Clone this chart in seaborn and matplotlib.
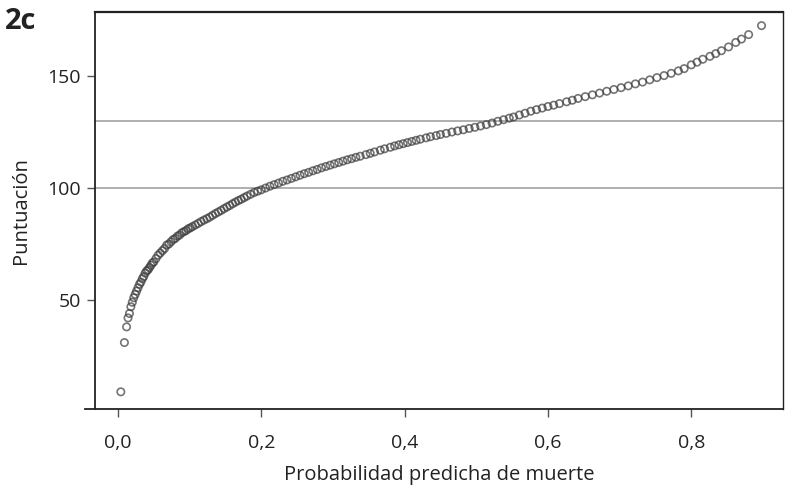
import matplotlib
matplotlib.use("Agg")
import matplotlib.pyplot as plt
import seaborn as sns
import pandas as pd

# predicted probability of death vs score
prob = [0.004, 0.009, 0.012, 0.014, 0.016, 0.018, 0.020, 0.022, 0.024, 0.026,
        0.028, 0.030, 0.032, 0.034, 0.036, 0.038, 0.040, 0.042, 0.044, 0.046,
        0.048, 0.050, 0.053, 0.056, 0.059, 0.062, 0.065, 0.068, 0.071, 0.074,
        0.077, 0.080, 0.083, 0.086, 0.089, 0.092, 0.095, 0.098, 0.101, 0.104,
        0.108, 0.112, 0.116, 0.120, 0.124, 0.128, 0.132, 0.136, 0.140, 0.144,
        0.148, 0.152, 0.156, 0.160, 0.164, 0.168, 0.172, 0.176, 0.180, 0.185,
        0.190, 0.195, 0.200,
        0.206, 0.212, 0.218, 0.224, 0.230, 0.236, 0.242, 0.248, 0.254, 0.260,
        0.266, 0.272, 0.278, 0.284, 0.290, 0.296, 0.302, 0.308, 0.314, 0.320,
        0.326, 0.332, 0.338, 0.346, 0.352, 0.358, 0.366, 0.372, 0.380, 0.386,
        0.392, 0.398, 0.404, 0.410, 0.416, 0.422, 0.430, 0.436, 0.444, 0.450,
        0.458, 0.466, 0.474, 0.482, 0.490, 0.498,
        0.506, 0.514, 0.522, 0.530, 0.538, 0.546, 0.552, 0.560, 0.568, 0.576,
        0.584, 0.592, 0.600, 0.608, 0.616, 0.626, 0.634, 0.642, 0.652, 0.662,
        0.672, 0.682, 0.692, 0.702, 0.712, 0.722, 0.732, 0.742, 0.752, 0.762,
        0.772, 0.782, 0.790, 0.800, 0.808, 0.816, 0.826, 0.834, 0.842, 0.852,
        0.862, 0.870, 0.880, 0.898]
score = [9, 31, 38, 42, 44, 47, 49, 51, 52.5, 54,
         55.5, 57, 58, 59.5, 60.5, 62, 63, 63.5, 64.5, 65.5,
         66.5, 67, 68.5, 70, 71, 72, 73, 74.5, 75, 76,
         77, 77.5, 78.5, 79, 80, 80.5, 81, 81.8, 82.2, 82.8,
         83.5, 84.2, 85, 85.7, 86.3, 87, 87.8, 88.6, 89.3, 90,
         90.8, 91.5, 92.2, 93, 93.7, 94.4, 95, 95.7, 96.4, 97.2,
         98, 98.6, 99.2,
         100, 100.8, 101.5, 102.2, 103, 103.6, 104.3, 105, 105.7, 106.4,
         107, 107.7, 108.3, 109, 109.6, 110.2, 110.8, 111.4, 112, 112.6,
         113.1, 113.7, 114.2, 114.9, 115.5, 116.1, 116.9, 117.5, 118.2, 118.8,
         119.3, 119.8, 120.3, 120.8, 121.3, 121.8, 122.4, 122.9, 123.4, 123.9,
         124.4, 125, 125.5, 126, 126.6, 127.1,
         127.7, 128.3, 129, 129.8, 130.5, 131.2, 131.7, 132.6, 133.4, 134.3,
         135, 135.7, 136.4, 137, 137.7, 138.5, 139.2, 140, 140.8, 141.6,
         142.4, 143.2, 144, 144.8, 145.6, 146.5, 147.3, 148.3, 149.3, 150.2,
         151.2, 152.3, 153.3, 155, 156.2, 157.5, 158.8, 160, 161.3, 163,
         165, 166.5, 168.5, 172.5]

ref_lines = [100, 130]
xticks = [0.0, 0.2, 0.4, 0.6, 0.8]
xticklabels = ["0,0", "0,2", "0,4", "0,6", "0,8"]
yticks = [50, 100, 150]

df = pd.DataFrame({"prob": prob, "score": score})

sns.set_style("white")
plt.rcParams["font.family"] = ["Open Sans", "DejaVu Sans"]

fig = plt.figure(figsize=(7.88, 4.87), dpi=100)
ax = fig.add_axes([0.1206, 0.160, 0.8731, 0.8154])

for yv in ref_lines:
    ax.axhline(yv, color="#9a9a9a", lw=1.1, zorder=1)

sns.scatterplot(data=df, x="prob", y="score", ax=ax, marker="o", s=28,
                facecolor="none", edgecolor="#3a3a3a", linewidth=1.2,
                alpha=0.7, zorder=3)

ax.set_xlim(-0.032, 0.928)
ax.set_ylim(1.3, 178.6)
ax.set_xticks(xticks)
ax.set_xticklabels(xticklabels)
ax.set_yticks(yticks)

for sp in ax.spines.values():
    sp.set_visible(True)
    sp.set_color("#222222")
    sp.set_linewidth(1.3)
ax.spines["top"].set_linewidth(1.6)
ax.spines["right"].set_linewidth(1.0)
ax.spines["bottom"].set_bounds(-0.046, 0.928)

ax.tick_params(axis="both", direction="out", length=6, width=1, color="#555555",
               labelsize=14, labelcolor="#222222", bottom=True, left=True)
ax.tick_params(axis="x", pad=12)
ax.tick_params(axis="y", pad=4)

ax.set_xlabel("Probabilidad predicha de muerte", fontsize=14.5, color="#222222", labelpad=9)
ax.set_ylabel("Puntuación", fontsize=14.5, color="#222222", labelpad=12)

fig.text(0.006, 0.985, "2c", fontsize=21, fontweight="bold", color="#222222",
         va="top", ha="left")

fig.savefig("out.png", dpi=100)
